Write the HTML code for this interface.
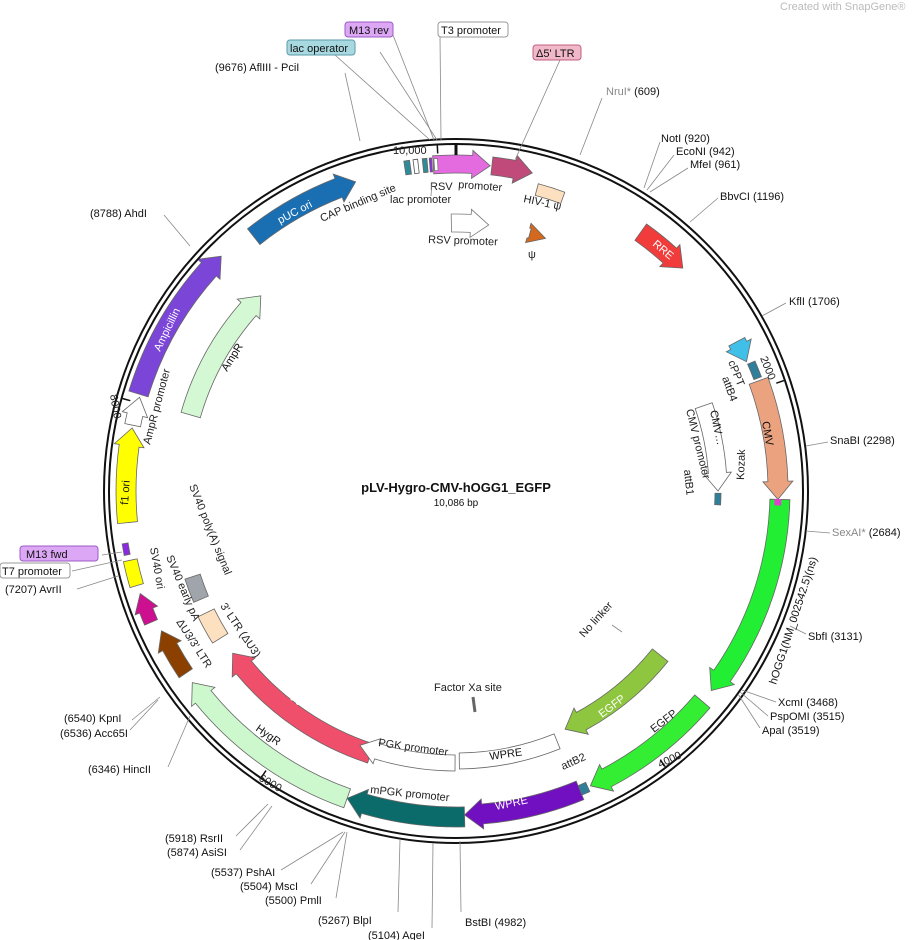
<!DOCTYPE html>
<html><head><meta charset="utf-8"><style>
body{margin:0;background:#fff}
svg{display:block;font-family:"Liberation Sans",sans-serif}
.s{font-size:11px;fill:#111}
.g{font-size:11px;fill:#888}
.f{font-size:11px;fill:#222}
</style></head><body>
<svg id="m" width="917" height="940" viewBox="0 0 917 940">
<text x="780" y="10" font-size="11" fill="#bbb">Created with SnapGene®</text>
<g id="shapes"></g>
<circle cx="456" cy="491" r="352" fill="none" stroke="#111" stroke-width="2"/>
<circle cx="456" cy="491" r="347" fill="none" stroke="#111" stroke-width="2"/>
<g stroke="#888" stroke-width="0.8" fill="none">
<path d="M345 73 L360 141"/><path d="M164 215 L190 246"/><path d="M602 98 L580 155"/>
<path d="M660 142 L644 188"/><path d="M674 155 L647 190"/><path d="M688 168 L650 192"/>
<path d="M718 198 L690 222"/><path d="M786 303 L762 316"/><path d="M828 442 L806 446"/>
<path d="M830 533 L806 531"/><path d="M806 634 L790 626"/>
<path d="M776 702 L742 690"/><path d="M768 716 L740 692"/><path d="M760 728 L738 694"/>
<path d="M461 912 L460 841"/><path d="M432 928 L433 843"/><path d="M398 912 L400 840"/>
<path d="M336 898 L347 832"/><path d="M311 884 L345 832"/><path d="M281 870 L343 832"/>
<path d="M240 850 L272 806"/><path d="M236 836 L268 804"/>
<path d="M168 767 L190 716"/><path d="M132 720 L160 697"/><path d="M130 730 L158 700"/>
<path d="M77 589 L118 576"/><path d="M102 555 L122 552"/><path d="M72 571 L122 560"/>
<path d="M380 52 L437 140"/><path d="M335 55 L430 140"/><path d="M393 35 L434 140"/>
<path d="M440 36 L441 140"/><path d="M560 60 L515 160"/>
</g>
<text class="s" x="215" y="71">(9676)  AflIII - PciI</text>
<text class="s" x="90" y="217">(8788)  AhdI</text>
<text class="g" x="606" y="95">NruI*  <tspan fill="#111">(609)</tspan></text>
<text class="s" x="661" y="142">NotI  (920)</text>
<text class="s" x="676" y="155">EcoNI  (942)</text>
<text class="s" x="690" y="168">MfeI  (961)</text>
<text class="s" x="720" y="200">BbvCI  (1196)</text>
<text class="s" x="789" y="305">KflI  (1706)</text>
<text class="s" x="830" y="444">SnaBI  (2298)</text>
<text class="g" x="832" y="536">SexAI*  <tspan fill="#111">(2684)</tspan></text>
<text class="s" x="808" y="640">SbfI  (3131)</text>
<text class="s" x="778" y="706">XcmI  (3468)</text>
<text class="s" x="770" y="720">PspOMI  (3515)</text>
<text class="s" x="762" y="734">ApaI  (3519)</text>
<text class="s" x="465" y="926">BstBI  (4982)</text>
<text class="s" x="368" y="939">(5104)  AgeI</text>
<text class="s" x="318" y="924">(5267)  BlpI</text>
<text class="s" x="265" y="904">(5500)  PmlI</text>
<text class="s" x="240" y="890">(5504)  MscI</text>
<text class="s" x="211" y="876">(5537)  PshAI</text>
<text class="s" x="167" y="856">(5874)  AsiSI</text>
<text class="s" x="165" y="842">(5918)  RsrII</text>
<text class="s" x="88" y="773">(6346)  HincII</text>
<text class="s" x="64" y="722">(6540)  KpnI</text>
<text class="s" x="60" y="737">(6536)  Acc65I</text>
<text class="s" x="5" y="593">(7207)  AvrII</text>
<rect x="20" y="546" width="78" height="15" rx="3" fill="#dca7f5" stroke="#9b5bc5"/><text class="s" x="26" y="558">M13 fwd</text>
<rect x="0" y="563" width="70" height="15" rx="3" fill="#fff" stroke="#999"/><text class="s" x="2" y="575">T7 promoter</text>
<rect x="287" y="40" width="68" height="15" rx="3" fill="#a8d8e0" stroke="#5a9aa8"/><text class="s" x="290" y="52">lac operator</text>
<rect x="345" y="22" width="48" height="15" rx="3" fill="#dca7f5" stroke="#9b5bc5"/><text class="s" x="349" y="34">M13 rev</text>
<rect x="438" y="22" width="70" height="15" rx="3" fill="#fff" stroke="#999"/><text class="s" x="441" y="34">T3 promoter</text>
<rect x="533" y="45" width="48" height="15" rx="3" fill="#f0b8c8" stroke="#c06080"/><text class="s" x="536" y="57">Δ5' LTR</text>
<text x="456" y="492" text-anchor="middle" font-size="13" font-weight="bold" fill="#111">pLV-Hygro-CMV-hOGG1_EGFP</text>
<text x="456" y="506" text-anchor="middle" font-size="10" fill="#111">10,086 bp</text>
<text class="f" x="393" y="154" font-size="10">10,000</text>
<text class="f" font-size="10" transform="translate(760,358) rotate(68)">2000</text>
<text class="f" font-size="10" transform="translate(660,768) rotate(-25)">4000</text>
<text class="f" font-size="10" transform="translate(258,780) rotate(30)">6000</text>
<text class="f" font-size="10" transform="translate(110,395) rotate(80)">8000</text>
<text class="f" transform="translate(322,222) rotate(-23)">CAP binding site</text>
<text class="f" x="390" y="203">lac promoter</text>
<text class="f" x="430" y="190">RSV</text>
<text class="f" transform="translate(458,188) rotate(4)">promoter</text>
<text class="f" transform="translate(523,202) rotate(12)">HIV-1 ψ</text>
<text class="f" transform="translate(428,243) rotate(2)">RSV promoter</text>
<text class="f" x="528" y="258">ψ</text>
<text class="f" transform="translate(728,362) rotate(68)">cPPT</text>
<text class="f" transform="translate(722,378) rotate(70)">attB4</text>
<text class="f" transform="translate(686,410) rotate(76)">CMV promoter</text>
<text class="f" transform="translate(684,470) rotate(84)">attB1</text>
<text class="f" transform="translate(744,480) rotate(-88)">Kozak</text>
<text class="f" transform="translate(654,733) rotate(-38)">EGFP</text>
<text class="f" transform="translate(563,770) rotate(-24)">attB2</text>
<text class="f" transform="translate(370,793) rotate(6)">mPGK promoter</text>
<text class="f" transform="translate(378,746) rotate(8)">PGK promoter</text>
<text class="f" x="434" y="691">Factor Xa site</text>
<text class="f" transform="translate(584,638) rotate(-48)">No linker</text>
<text class="f" transform="translate(189,486) rotate(68)">SV40 poly(A) signal</text>
<text class="f" transform="translate(220,606) rotate(56)">3' LTR (ΔU3)</text>
<text class="f" transform="translate(150,548) rotate(80)">SV40 ori</text>
<text class="f" transform="translate(166,557) rotate(67)">SV40 early pA</text>
<text class="f" transform="translate(176,622) rotate(57)">ΔU3/3' LTR</text>
<text class="f" transform="translate(150,445) rotate(-75)">AmpR promoter</text>
<g stroke="#888" stroke-width="0.8"><path d="M432 182 L431 196"/><path d="M612 625 L622 632"/><path d="M473 697 L475 712" stroke="#666" stroke-width="3"/></g>
<g id="inner"></g>
</svg>
<script>
var cx=456,cy=491,NS="http://www.w3.org/2000/svg";
function P(r,a){a=a*Math.PI/180;return [(cx+r*Math.sin(a)).toFixed(1),(cy-r*Math.cos(a)).toFixed(1)].join(' ');}
function arc(r,a1,a2){var sw=a2>a1?1:0;var la=Math.abs(a2-a1)>180?1:0;return ' A'+r+' '+r+' 0 '+la+' '+sw+' '+P(r,a2);}
function shape(r,w,a1,a2,head,fill,stroke){
  var ro=r+w/2,ri=r-w/2,hl=18/r*180/Math.PI,d;
  if(head==1){var b=a2-hl;d='M'+P(ro,a1)+arc(ro,a1,b)+' L'+P(ro+5,b)+' L'+P(r,a2)+' L'+P(ri-5,b)+' L'+P(ri,b)+arc(ri,b,a1)+'Z';}
  else if(head==-1){var b=a1+hl;d='M'+P(ro,a2)+arc(ro,a2,b)+' L'+P(ro+5,b)+' L'+P(r,a1)+' L'+P(ri-5,b)+' L'+P(ri,b)+arc(ri,b,a2)+'Z';}
  else d='M'+P(ro,a1)+arc(ro,a1,a2)+' L'+P(ri,a2)+arc(ri,a2,a1)+'Z';
  var p=document.createElementNS(NS,'path');p.setAttribute('d',d);p.setAttribute('fill',fill);
  p.setAttribute('stroke',stroke||'#666');p.setAttribute('stroke-width','0.8');
  document.getElementById('shapes').appendChild(p);
}
var S=shape;
S(325,20,321.5,342,1,'#1a6fb3');
S(327,18,-4,6,1,'#e46ae0');
S(327,18,6.3,13.5,1,'#c04a7a');
S(312,12,15,20,0,'#fde0c0');
S(327,14,-9,-8,0,'#2f8a9a');S(327,14,-7.4,-6.6,0,'#fff','#555');S(327,14,-5.8,-5.0,0,'#2f8a9a');S(327,14,-4.6,-4.2,0,'#8a2be2');S(327,12,-3.8,-3.2,0,'#fff','#777');
S(268,18,-1,7,1,'#fff','#777');
S(268,10,16,19.5,1,'#d2691e');
S(318,20,35.5,45.5,1,'#f23c3c');
S(318,18,62,66,1,'#40c0e8');
S(322,8,66.5,69.5,0,'#2f7f9a');
S(322,20,70,91.5,1,'#eba27f');
S(324,20,91.5,128,1,'#22ee33');S(322,6,91.5,92.5,0,'#e040d0','#e040d0');
S(324,20,130.5,155.5,1,'#33ee33');
S(324,10,156,157.5,0,'#2f7f9a');
S(324,20,157.5,178.5,1,'#7010c0');
S(326,20,178.5,199.5,1,'#0b6a6a');
S(326,20,199.5,234,1,'#cdf7cd');
S(326,16,236,244.6,1,'#8b4000');
S(332,14,246.7,252,1,'#cc1090');
S(333,14,253.5,258,0,'#ffff00');
S(335,6,259,261,0,'#8a2be2');
S(330,20,264.5,281,1,'#ffff00');
S(330,16,281.5,286.5,1,'#fff');
S(332,20,287,315,1,'#7b45d8');
S(276,20,286,315,1,'#d4f7d4');
S(276,20,198,234,1,'#ef4f6a');
S(278,18,238,244,0,'#fde0c0');
S(277,16,247,252,0,'#a0a4ab');
S(272,16,180.2,200.7,1,'#fff');
S(270,16,158,179.3,0,'#fff');
S(262,20,128.8,155.4,1,'#8ec63f');
S(262,18,71,90,1,'#fff');
S(262,6,90.5,93,0,'#2f7f9a');
function tick(a,r1,r2,w){var l=document.createElementNS(NS,'path');l.setAttribute('d','M'+P(r1,a)+' L'+P(r2,a));l.setAttribute('stroke','#111');l.setAttribute('stroke-width',w||1.5);document.getElementById('inner').appendChild(l);}
tick(0,336,346,3);tick(356.9,338,346);tick(71.4,338,346);tick(142.8,338,346);tick(214.2,338,346);tick(285.5,338,346);
</script>
<svg style="position:absolute;left:0;top:0" width="917" height="940">
<g font-family="Liberation Sans,sans-serif" font-size="11">
<text fill="#fff" transform="translate(280,224) rotate(-28)">pUC ori</text>
<text fill="#fff" transform="translate(160,352) rotate(-64)">Ampicillin</text>
<text fill="#111" transform="translate(128,505) rotate(-86)">f1 ori</text>
<text fill="#111" transform="translate(227,372) rotate(-58)">AmpR</text>
<text fill="#fff" transform="translate(652,245) rotate(40)">RRE</text>
<text fill="#111" transform="translate(762,422) rotate(80)">CMV</text>
<text fill="#111" transform="translate(710,411) rotate(78)">CMV…</text>
<text fill="#111" transform="translate(776,685) rotate(-72)">hOGG1(NM_002542.5)(ns)</text>
<text fill="#fff" transform="translate(602,718) rotate(-37)">EGFP</text>
<text fill="#fff" transform="translate(496,810) rotate(-12)">WPRE</text>
<text fill="#111" transform="translate(490,760) rotate(-8)">WPRE</text>
<text fill="#fff" transform="translate(285,693) rotate(36)">Hygro</text>
<text fill="#111" transform="translate(255,730) rotate(35)">HygR</text>
</g></svg>
</body></html>
